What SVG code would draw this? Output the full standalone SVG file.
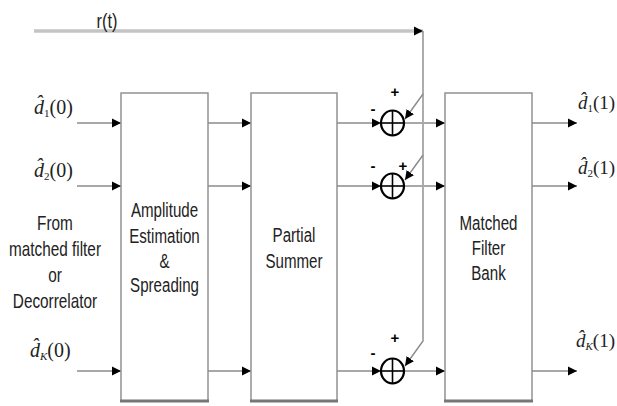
<svg xmlns="http://www.w3.org/2000/svg" width="617" height="406" viewBox="0 0 617 406">
<style>
.box{fill:#fff;stroke:#8a8a8a;stroke-width:1.4}
.base{stroke:#777;stroke-width:3}
.wire{stroke:#a8a8a8;stroke-width:2;fill:none}
.thin{stroke:#8a8a8a;stroke-width:1.4;fill:none}
.rt{stroke:#c4c4c4;stroke-width:3.5;fill:none}
.t{font-family:"Liberation Sans",Arial,sans-serif;font-size:21px;fill:#222;text-anchor:middle}
.m{font-family:"Liberation Serif","Times New Roman",serif;font-size:20px;fill:#222}
.mr{font-family:"Liberation Serif","Times New Roman",serif;font-size:19px;fill:#222}
.sub{font-size:11px}
.sum{fill:#fff;stroke:#000;stroke-width:2.2}
.cross{stroke:#000;stroke-width:1.6}
.sg{font-family:"Liberation Sans",Arial,sans-serif;font-size:15px;font-weight:bold;fill:#000;text-anchor:middle}
</style>
<defs>
<marker id="ah" markerUnits="userSpaceOnUse" markerWidth="10" markerHeight="10" refX="9" refY="5" orient="auto" viewBox="0 0 10 10">
<path d="M0,0.5 L9,5 L0,9.5 z" fill="#000"/>
</marker>
</defs>

<g id="connectors">
<line class="rt" x1="34" y1="31" x2="423" y2="31" marker-end="url(#ah)"/>
<path class="thin" d="M423,31 V341 L405,366" marker-end="url(#ah)"/>
<path class="thin" d="M423,94 L405,119" marker-end="url(#ah)"/>
<path class="thin" d="M423,155 L405,180" marker-end="url(#ah)"/>
<line class="wire" x1="77" y1="123" x2="121" y2="123" marker-end="url(#ah)"/>
<line class="wire" x1="77" y1="186" x2="121" y2="186" marker-end="url(#ah)"/>
<line class="wire" x1="77" y1="371" x2="121" y2="371" marker-end="url(#ah)"/>
<line class="wire" x1="208" y1="123" x2="251" y2="123" marker-end="url(#ah)"/>
<line class="wire" x1="208" y1="186" x2="251" y2="186" marker-end="url(#ah)"/>
<line class="wire" x1="208" y1="371" x2="251" y2="371" marker-end="url(#ah)"/>
<line class="wire" x1="337" y1="123" x2="381" y2="123" marker-end="url(#ah)"/>
<line class="wire" x1="337" y1="186" x2="381" y2="186" marker-end="url(#ah)"/>
<line class="wire" x1="337" y1="371" x2="381" y2="371" marker-end="url(#ah)"/>
<line class="wire" x1="404" y1="123" x2="445" y2="123" marker-end="url(#ah)"/>
<line class="wire" x1="404" y1="186" x2="445" y2="186" marker-end="url(#ah)"/>
<line class="wire" x1="404" y1="371" x2="445" y2="371" marker-end="url(#ah)"/>
<line class="wire" x1="532" y1="123" x2="577" y2="123" marker-end="url(#ah)"/>
<line class="wire" x1="532" y1="186" x2="577" y2="186" marker-end="url(#ah)"/>
<line class="wire" x1="532" y1="371" x2="577" y2="371" marker-end="url(#ah)"/>
</g>

<g id="rt-label"><text class="t" transform="translate(107 28) scale(0.78 1)" x="0" y="0">r(t)</text></g>

<g id="in-labels">
<text class="m" x="34" y="114"><tspan font-style="italic">d̂</tspan><tspan class="sub" dy="3">1</tspan><tspan dy="-3">(0)</tspan></text>
<text class="m" x="34" y="177"><tspan font-style="italic">d̂</tspan><tspan class="sub" dy="3">2</tspan><tspan dy="-3">(0)</tspan></text>
<text class="m" x="30" y="357"><tspan font-style="italic">d̂</tspan><tspan class="sub" font-style="italic" dy="3">K</tspan><tspan dy="-3">(0)</tspan></text>
<g transform="translate(55 0) scale(0.73 1)">
<text class="t" x="0" y="230">From</text>
<text class="t" x="0" y="256">matched filter</text>
<text class="t" x="0" y="282">or</text>
<text class="t" x="0" y="308">Decorrelator</text>
</g>
</g>

<g id="amp">
<rect class="box" x="121" y="93" width="87" height="308"/>
<line class="base" x1="120" y1="401" x2="209" y2="401"/>
<g transform="translate(164.5 0) scale(0.72 1)">
<text class="t" x="0" y="217">Amplitude</text>
<text class="t" x="0" y="243">Estimation</text>
<text class="t" x="0" y="268">&amp;</text>
<text class="t" x="0" y="292">Spreading</text>
</g>
</g>

<g id="partial">
<rect class="box" x="251" y="93" width="86" height="308"/>
<line class="base" x1="250" y1="401" x2="338" y2="401"/>
<g transform="translate(294 0) scale(0.72 1)">
<text class="t" x="0" y="242">Partial</text>
<text class="t" x="0" y="268">Summer</text>
</g>
</g>

<g id="mfb">
<rect class="box" x="445" y="93" width="87" height="308"/>
<line class="base" x1="444" y1="401" x2="533" y2="401"/>
<g transform="translate(488.5 0) scale(0.72 1)">
<text class="t" x="0" y="230">Matched</text>
<text class="t" x="0" y="255">Filter</text>
<text class="t" x="0" y="280">Bank</text>
</g>
</g>

<g id="sum1">
<ellipse class="sum" cx="392.5" cy="123" rx="11.5" ry="12.5"/>
<line class="cross" x1="392.5" y1="111" x2="392.5" y2="135"/>
<line class="cross" x1="381.5" y1="123" x2="403.5" y2="123"/>
<text class="sg" x="395" y="97">+</text>
<text class="sg" x="373" y="114">-</text>
</g>
<g id="sum2">
<ellipse class="sum" cx="392.5" cy="186" rx="11.5" ry="12.5"/>
<line class="cross" x1="392.5" y1="174" x2="392.5" y2="198"/>
<line class="cross" x1="381.5" y1="186" x2="403.5" y2="186"/>
<text class="sg" x="403" y="171">+</text>
<text class="sg" x="373" y="171">-</text>
</g>
<g id="sumK">
<ellipse class="sum" cx="392.5" cy="371" rx="11.5" ry="12.5"/>
<line class="cross" x1="392.5" y1="359" x2="392.5" y2="383"/>
<line class="cross" x1="381.5" y1="371" x2="403.5" y2="371"/>
<text class="sg" x="395" y="343">+</text>
<text class="sg" x="373" y="358">-</text>
</g>

<g id="out-labels">
<text class="mr" x="578" y="109"><tspan font-style="italic">d̂</tspan><tspan class="sub" dy="3">1</tspan><tspan dy="-3">(1)</tspan></text>
<text class="mr" x="578" y="174"><tspan font-style="italic">d̂</tspan><tspan class="sub" dy="3">2</tspan><tspan dy="-3">(1)</tspan></text>
<text class="mr" x="576" y="347"><tspan font-style="italic">d̂</tspan><tspan class="sub" font-style="italic" dy="3">K</tspan><tspan dy="-3">(1)</tspan></text>
</g>
</svg>
